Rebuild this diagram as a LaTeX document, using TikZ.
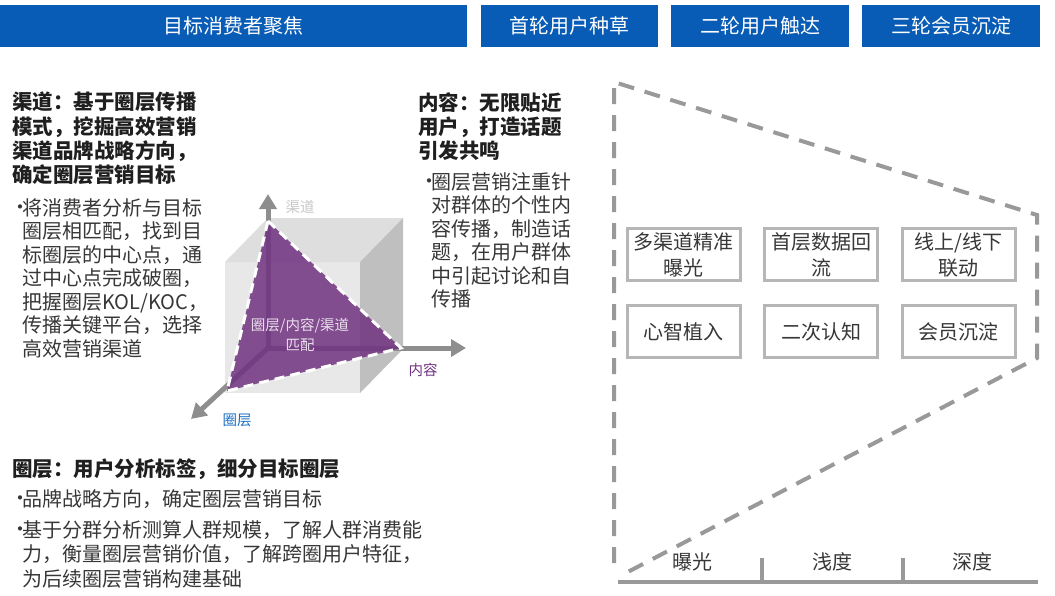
\documentclass[tikz,border=0pt]{standalone}
\usepackage{fontspec}
\setmainfont{Noto Sans CJK SC}
\usetikzlibrary{arrows.meta}
\definecolor{barblue}{RGB}{8,92,182}
\definecolor{axisgray}{RGB}{142,142,142}
\definecolor{dashgray}{RGB}{153,153,153}
\definecolor{boxgray}{RGB}{182,182,182}
\definecolor{txtgray}{RGB}{55,55,55}
\definecolor{mixpurple}{RGB}{112,50,128}
\definecolor{ringblue}{RGB}{26,110,192}
\newcommand{\bul}{\makebox[12pt][l]{\raisebox{1pt}{•}}}
\newcommand{\ind}{\hspace*{12pt}}
\begin{document}
\begin{tikzpicture}[x=1pt,y=-1pt,
    bar/.style={fill=barblue,text=white,inner sep=0,minimum height=42,font=\fontsize{20}{24}\selectfont},
    head/.style={anchor=north west,align=left,inner sep=0,text=black!88,font=\fontsize{20.5}{24.3}\selectfont\bfseries},
    body/.style={anchor=north west,align=left,inner sep=0,text=txtgray,font=\fontsize{20}{23.5}\selectfont},
    axis/.style={draw=axisgray,line width=5pt,-{Triangle[width=17pt,length=15pt]}},
    axlabel/.style={inner sep=0,font=\fontsize{14.5}{16}\selectfont},
    funnel/.style={draw=dashgray,line width=4pt,dash pattern=on 16pt off 11pt},
    stage/.style={draw=boxgray,line width=3pt,minimum width=113,minimum height=52,inner sep=0,align=center,text=txtgray,font=\fontsize{20}{26}\selectfont},
    level/.style={inner sep=0,text=txtgray,font=\fontsize{20}{24}\selectfont}]
\useasboundingbox (0,0) rectangle (1055,595);

\node[bar,minimum width=467] (goal) at (233.5,26) {目标消费者聚焦};
\node[bar,minimum width=177] (first) at (569.5,26) {首轮用户种草};
\node[bar,minimum width=178] (second) at (760,26) {二轮用户触达};
\node[bar,minimum width=178] (third) at (951,26) {三轮会员沉淀};

\node[head] (chanhead) at (12,92) {渠道：基于圈层传播\\模式，挖掘高效营销\\渠道品牌战略方向，\\确定圈层营销目标};
\node[body] (chanbody) at (10,198) {\bul 将消费者分析与目标\\\ind 圈层相匹配，找到目\\\ind 标圈层的中心点，通\\\ind 过中心点完成破圈，\\\ind 把握圈层KOL/KOC，\\\ind 传播关键平台，选择\\\ind 高效营销渠道};
\node[head] (conthead) at (418,92) {内容：无限贴近\\用户，打造话题\\引发共鸣};
\node[body] (contbody) at (419,172) {\bul 圈层营销注重针\\\ind 对群体的个性内\\\ind 容传播，制造话\\\ind 题，在用户群体\\\ind 中引起讨论和自\\\ind 传播};
\node[head] (ringhead) at (12,459) {圈层：用户分析标签，细分目标圈层};
\node[body] (ringbody1) at (10,489) {\bul 品牌战略方向，确定圈层营销目标};
\node[body,font=\fontsize{20}{24.5}\selectfont] (ringbody2) at (10,520) {\bul 基于分群分析测算人群规模，了解人群消费能\\\ind 力，衡量圈层营销价值，了解跨圈用户特征，\\\ind 为后续圈层营销构建基础};

\fill[black!9] (225,262) rectangle (360,393);
\fill[black!13] (225,262) -- (268,218) -- (403,218) -- (360,262) -- cycle;
\fill[black!25] (360,262) -- (403,218) -- (403,349) -- (360,393) -- cycle;

\coordinate (o) at (268,348);
\coordinate (uptip) at (268,194);
\coordinate (righttip) at (466,348);
\coordinate (downtip) at (191,419);
\draw[axis] (o) -- (uptip);
\draw[axis] (o) -- (righttip);
\draw[axis] (o) -- (downtip);

\coordinate (pc) at (268,221);
\coordinate (px) at (401,348);
\coordinate (pq) at (227,391);
\fill[mixpurple,opacity=0.85] (pc) -- (px) -- (pq) -- cycle;
\draw[white,line width=3pt,dash pattern=on 10pt off 6pt] (pc) -- (px) -- (pq) -- cycle;
\node[axlabel,text=white!85!mixpurple,align=center,font=\fontsize{14.5}{20}\selectfont] (mix) at (300,335) {圈层/内容/渠道\\匹配};

\node[axlabel,text=black!22] (chanlabel) at (300,207) {渠道};
\node[axlabel,text=mixpurple] (contlabel) at (423,370) {内容};
\node[axlabel,text=ringblue] (ringlabel) at (237,420) {圈层};

\draw[funnel] (614,563) -- (614,82) -- (1037,215) -- (1037,358) -- (622,575);

\node[stage] (s1) at (683.5,254.5) {多渠道精准\\曝光};
\node[stage] (s2) at (821,254.5) {首层数据回\\流};
\node[stage] (s3) at (958.5,254.5) {线上/线下\\联动};
\node[stage] (s4) at (683.5,331.5) {心智植入};
\node[stage] (s5) at (821,331.5) {二次认知};
\node[stage] (s6) at (958.5,331.5) {会员沉淀};

\draw[dashgray,line width=4pt] (618,582) -- (1038,582);
\draw[dashgray,line width=4pt] (762,558) -- (762,582);
\draw[dashgray,line width=4pt] (903,558) -- (903,582);
\node[level] (expo) at (692,562) {曝光};
\node[level] (shallow) at (832,562) {浅度};
\node[level] (deep) at (972,562) {深度};
\end{tikzpicture}
\end{document}
